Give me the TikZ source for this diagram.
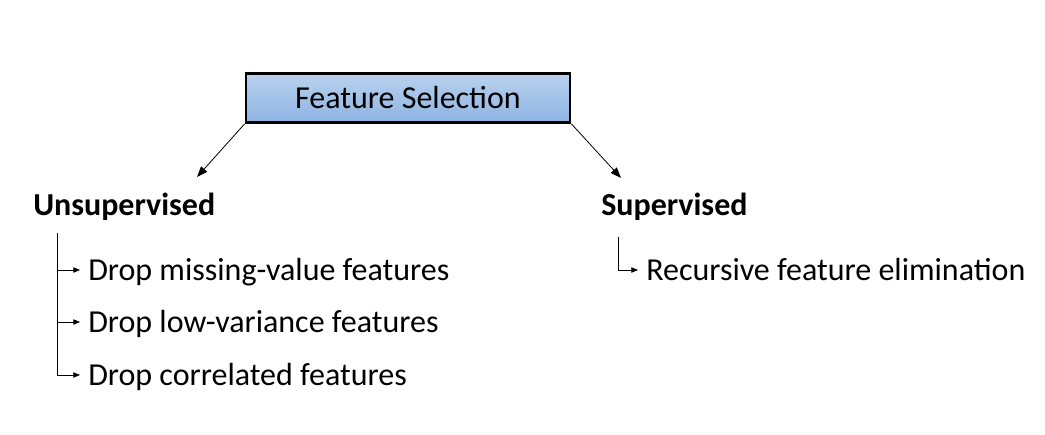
\documentclass[tikz,border=0pt]{standalone}
\usepackage{fontspec}
\setmainfont{Carlito}
\usetikzlibrary{arrows.meta}
\begin{document}
\begin{tikzpicture}[x=0.75pt,y=-0.75pt,
  txt/.style={anchor=base west,inner sep=0pt,font=\fontsize{24}{28}\selectfont},
  head/.style={anchor=base west,inner sep=0pt,font=\fontsize{24}{28}\selectfont\bfseries},
  fsbox/.style={draw=black,line width=2.2pt,top color=fsTop,bottom color=fsBot,
    minimum width=324*0.75pt,minimum height=49*0.75pt,inner sep=0pt,
    font=\fontsize{24}{28}\selectfont},
  link/.style={line width=0.6pt,-{Triangle[length=8pt,width=6pt]}},
  tree/.style={line width=0.6pt,-{Triangle[length=5pt,width=4pt]}}]
\definecolor{fsTop}{HTML}{B9D1EE}
\definecolor{fsBot}{HTML}{8DB4E3}
\useasboundingbox (0,0) rectangle (1045,435);
\node[fsbox] (fs) at (408,98) {Feature Selection};
\coordinate (uT) at (197,177);
\coordinate (sT) at (621,178);
\draw[link] (fs.south west) -- (uT);
\draw[link] (fs.south east) -- (sT);
\node[head] (uns) at (33,215) {Unsupervised};
\node[head] (sup) at (601,215) {Supervised};
\node[txt] (d1) at (88,280) {Drop missing-value features};
\node[txt] (d2) at (88,332) {Drop low-variance features};
\node[txt] (d3) at (88,385) {Drop correlated features};
\node[txt] (r1) at (646,280) {Recursive feature elimination};
\coordinate (uTop) at (57,233);
\coordinate (u1) at (57,270);
\coordinate (u2) at (57,322);
\coordinate (u3) at (57,375);
\draw[line width=0.6pt] (uTop) -- (u3);
\draw[tree] (u1) -- ([xshift=-8*0.75pt]d1.west |- u1);
\draw[tree] (u2) -- ([xshift=-8*0.75pt]d2.west |- u2);
\draw[tree] (u3) -- ([xshift=-8*0.75pt]d3.west |- u3);
\coordinate (sTop) at (618,237);
\coordinate (s1) at (618,270);
\draw[tree] (sTop) -- (s1) -- ([xshift=-8*0.75pt]r1.west |- s1);
\end{tikzpicture}
\end{document}
